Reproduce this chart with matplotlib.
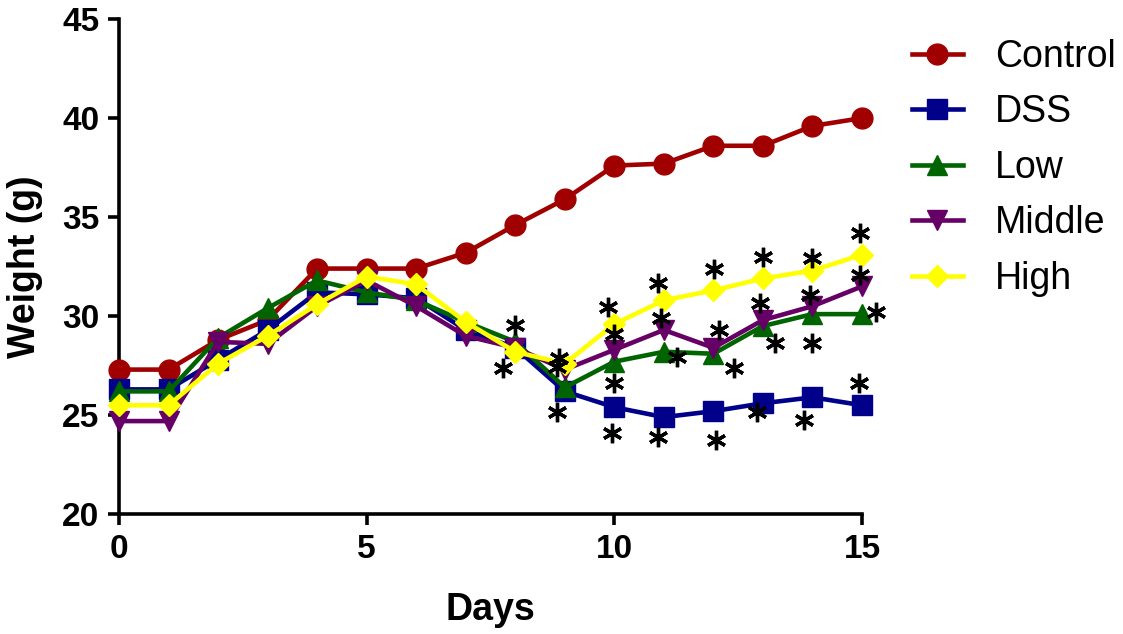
import numpy as np
import matplotlib
matplotlib.use("Agg")
import matplotlib.pyplot as plt

plt.rcParams.update({"font.family": ["Liberation Sans", "DejaVu Sans"]})

days = list(range(16))
control = [27.3, 27.3, 28.8, 29.8, 32.4, 32.4, 32.4, 33.2, 34.6, 35.9, 37.6, 37.7, 38.6, 38.6, 39.6, 40.0]
dss     = [26.3, 26.3, 27.8, 29.3, 31.2, 31.1, 30.9, 29.3, 28.4, 26.2, 25.4, 24.9, 25.2, 25.6, 25.9, 25.5]
low     = [26.2, 26.2, 28.9, 30.4, 31.8, 31.2, 30.8, 29.7, 28.7, 26.4, 27.7, 28.2, 28.1, 29.5, 30.1, 30.1]
middle  = [24.7, 24.7, 28.7, 28.6, 30.5, 31.8, 30.5, 29.0, 28.4, 27.3, 28.3, 29.3, 28.4, 29.8, 30.5, 31.5]
high    = [25.5, 25.5, 27.6, 29.0, 30.6, 32.0, 31.6, 29.7, 28.2, 27.6, 29.6, 30.8, 31.3, 31.9, 32.3, 33.1]

# significance asterisks
ast_x = [8.0, 7.76, 8.89, 8.85, 8.84, 9.88, 10.0, 10.0, 9.95,
         10.89, 10.94, 11.26, 10.89, 12.02, 12.12, 12.42, 12.05,
         13.01, 12.94, 13.24, 12.87, 13.99, 13.95, 13.99, 13.82,
         14.96, 14.96, 15.28, 14.93]
ast_y = [29.55, 27.36, 27.86, 27.44, 25.17, 30.45, 29.1, 26.6, 24.08,
         31.65, 29.88, 27.94, 23.9, 32.36, 29.29, 27.36, 23.77,
         33.0, 30.64, 28.62, 25.17, 32.91, 31.06, 28.62, 24.75,
         34.19, 32.07, 30.22, 26.6]

series = [
    ("Control", control, "#A00000", "o", 15),
    ("DSS", dss, "#00008B", "s", 14),
    ("Low", low, "#006400", "^", 15),
    ("Middle", middle, "#660066", "v", 15),
    ("High", high, "#FFFF00", "D", 11),
]

fig = plt.figure(figsize=(11.23, 6.34), dpi=100)
ax = fig.add_axes([0.106, 0.189, 0.6616, 0.781])

for label, ys, col, mk, ms in series:
    ax.plot(days, ys, color=col, marker=mk, ms=ms, lw=3.3, label=label,
            clip_on=False, zorder=3)

ax.plot(ast_x, ast_y, ls="none", marker=(6, 2, 0), ms=14, mew=2.4,
        color="black", clip_on=False, zorder=5)

ax.set_xlim(0, 15)
ax.set_ylim(20, 45)
ax.set_xticks([0, 5, 10, 15])
ax.set_yticks([20, 25, 30, 35, 40, 45])
for s in ("top", "right"):
    ax.spines[s].set_visible(False)
for s in ("left", "bottom"):
    ax.spines[s].set_linewidth(2.6)
ax.tick_params(width=2.6, length=8, labelsize=24, pad=6)
for t in ax.get_xticklabels() + ax.get_yticklabels():
    t.set_fontweight("bold")
ax.set_xlabel("Days", fontsize=27, fontweight="bold", labelpad=20)
ax.set_ylabel("Weight (g)", fontsize=27, fontweight="bold", labelpad=14)

ax.legend(loc="upper left", bbox_to_anchor=(1.047, 0.99), frameon=False,
          fontsize=27, handlelength=1.36, labelspacing=0.52, handletextpad=0.85,
          borderaxespad=0)

fig.savefig("out.png", dpi=100)
